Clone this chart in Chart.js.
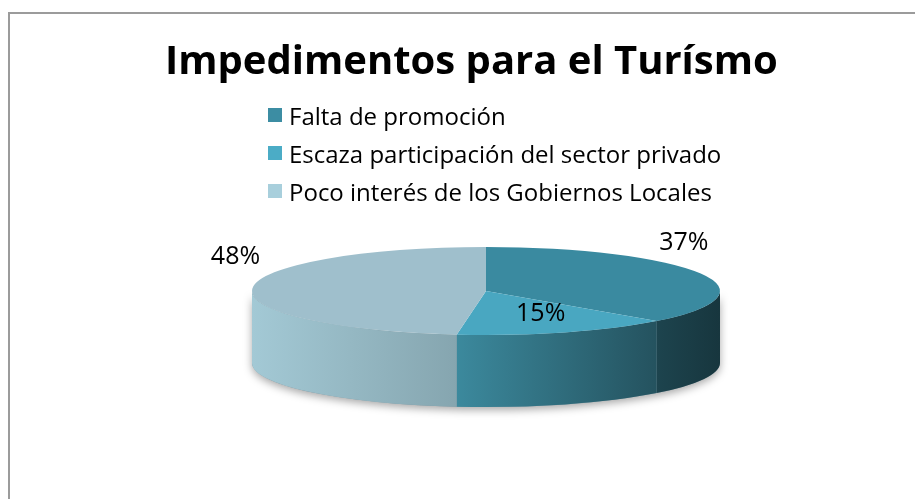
<!DOCTYPE html>
<html lang="es">
<head>
<meta charset="utf-8">
<title>Impedimentos para el Turísmo</title>
<script src="https://cdn.jsdelivr.net/npm/chart.js@4.4.1/dist/chart.umd.min.js"></script>
<style>
    html, body { margin: 0; padding: 0; background: #ffffff; overflow: hidden; }
    .frame {
        position: absolute; left: 8px; top: 12px;
        width: 1000px; height: 600px;
        border-left: 2px solid #9b9b9b; border-top: 2px solid #9b9b9b;
    }
    #chart { position: absolute; left: 0; top: 0; }
    #legend {
        position: absolute; left: 268px; top: 96px;
        font-family: "Open Sans", sans-serif; font-size: 24px; color: #000;
    }
    #legend .item { display: flex; align-items: center; height: 38px; white-space: nowrap; }
    #legend .box { width: 14px; height: 14px; margin-right: 7px; flex: none; }
</style>
</head>
<body>
<div class="frame"></div>
<canvas id="chart" width="915" height="499"></canvas>
<div id="legend"></div>
<script>
// datos del gráfico
const categories = [
    'Falta de promoción',
    'Escaza participación del sector privado',
    'Poco interés de los Gobiernos Locales'
];
const shares = [37, 15, 48];

// colores: leyenda (base de los laterales) y cara superior
const legendColors = ['#3c8da3', '#4bacc6', '#a8cfdc'];
const topColors = ['#3a8aa0', '#49a7c1', '#9fbfcc'];

// oscurece un color hex por un factor
const shade = (hex, f) => {
    const n = parseInt(hex.slice(1), 16);
    const r = Math.round(((n >> 16) & 255) * f);
    const g = Math.round(((n >> 8) & 255) * f);
    const b = Math.round((n & 255) * f);
    return `rgb(${r},${g},${b})`;
};

// leyenda propia (una entrada por línea, alineada a la izquierda)
const legendEl = document.getElementById('legend');
categories.forEach((name, i) => {
    const row = document.createElement('div');
    row.className = 'item';
    const box = document.createElement('span');
    box.className = 'box';
    box.style.backgroundColor = legendColors[i];
    const label = document.createElement('span');
    label.textContent = name;
    row.appendChild(box);
    row.appendChild(label);
    legendEl.appendChild(row);
});

// plugin para simular el pastel 3D de Excel
const pie3d = {
    id: 'pie3d',
    beforeDatasetsDraw(chart, args, opts) {
        const ctx = chart.ctx;
        const arcs = chart.getDatasetMeta(0).data;
        if (!arcs.length) return;
        const { x: cx, y: cy, outerRadius: r } = arcs[0].getProps(['x', 'y', 'outerRadius'], true);
        const k = opts.tilt;
        const depth = opts.depth;
        const ry = r * k;

        // sombra bajo el lateral
        ctx.save();
        ctx.shadowColor = 'rgba(0,0,0,0.35)';
        ctx.shadowBlur = 9;
        ctx.shadowOffsetY = 3;
        ctx.fillStyle = '#7f9aa5';
        ctx.beginPath();
        ctx.ellipse(cx, cy, r, ry, 0, 0, Math.PI);
        ctx.ellipse(cx, cy + depth, r, ry, 0, Math.PI, 0, true);
        ctx.closePath();
        ctx.fill();
        ctx.restore();

        // laterales visibles (mitad frontal)
        arcs.forEach((arc, i) => {
            const { startAngle, endAngle } = arc.getProps(['startAngle', 'endAngle'], true);
            [-2 * Math.PI, 0, 2 * Math.PI].forEach(off => {
                const a0 = Math.max(startAngle, off);
                const a1 = Math.min(endAngle, off + Math.PI);
                if (a1 <= a0) return;
                const grad = ctx.createLinearGradient(cx - r, 0, cx + r, 0);
                grad.addColorStop(0, shade(legendColors[i], 0.97));
                grad.addColorStop(0.43, shade(legendColors[i], 0.8));
                grad.addColorStop(1, shade(legendColors[i], 0.38));
                ctx.fillStyle = grad;
                ctx.beginPath();
                ctx.ellipse(cx, cy, r, ry, 0, a0, a1);
                ctx.ellipse(cx, cy + depth, r, ry, 0, a1, a0, true);
                ctx.closePath();
                ctx.fill();
            });
        });

        // inclinar la cara superior
        ctx.save();
        ctx.translate(cx, cy);
        ctx.scale(1, k);
        ctx.translate(-cx, -cy);
    },
    afterDatasetsDraw(chart, args, opts) {
        const ctx = chart.ctx;
        ctx.restore();

        // etiquetas de porcentaje
        const arcs = chart.getDatasetMeta(0).data;
        const total = shares.reduce((a, b) => a + b, 0);
        ctx.save();
        ctx.font = '25px "Open Sans", sans-serif';
        ctx.fillStyle = '#000000';
        ctx.textAlign = 'center';
        ctx.textBaseline = 'middle';
        arcs.forEach((arc, i) => {
            const { x: cx, y: cy, outerRadius: r, startAngle, endAngle } =
                arc.getProps(['x', 'y', 'outerRadius', 'startAngle', 'endAngle'], true);
            const mid = (startAngle + endAngle) / 2;
            const ry = r * opts.tilt;
            let lx, ly;
            if (shares[i] / total > 0.25) {
                // fuera del pastel, por encima del borde
                lx = cx + r * Math.cos(mid) - 17;
                ly = cy + ry * Math.sin(mid) - 31;
            } else {
                lx = cx + r * 0.69 * Math.cos(mid);
                ly = cy + ry * 0.55 * Math.sin(mid);
            }
            ctx.fillText(`${Math.round(shares[i] / total * 100)}%`, lx, ly);
        });
        ctx.restore();
    }
};

const ctx = document.getElementById('chart').getContext('2d');

new Chart(ctx, {
    type: 'pie',
    data: {
        labels: categories,
        datasets: [{
            data: shares,
            backgroundColor: topColors,
            borderWidth: 0,
            clip: false
        }]
    },
    options: {
        responsive: false,
        animation: false,
        radius: 234,
        layout: {
            padding: { top: 39, left: 165, right: 108, bottom: 4 }
        },
        plugins: {
            pie3d: { tilt: 0.188, depth: 72 },
            title: {
                display: true,
                align: 'start',
                text: 'Impedimentos para el Turísmo',
                color: '#000000',
                font: { family: '"Open Sans", sans-serif', size: 40, weight: 'bold' },
                padding: { top: 0, bottom: 0 }
            },
            legend: { display: false }, // usamos la leyenda propia
            tooltip: { enabled: false }
        }
    },
    plugins: [pie3d]
});
</script>
</body>
</html>
